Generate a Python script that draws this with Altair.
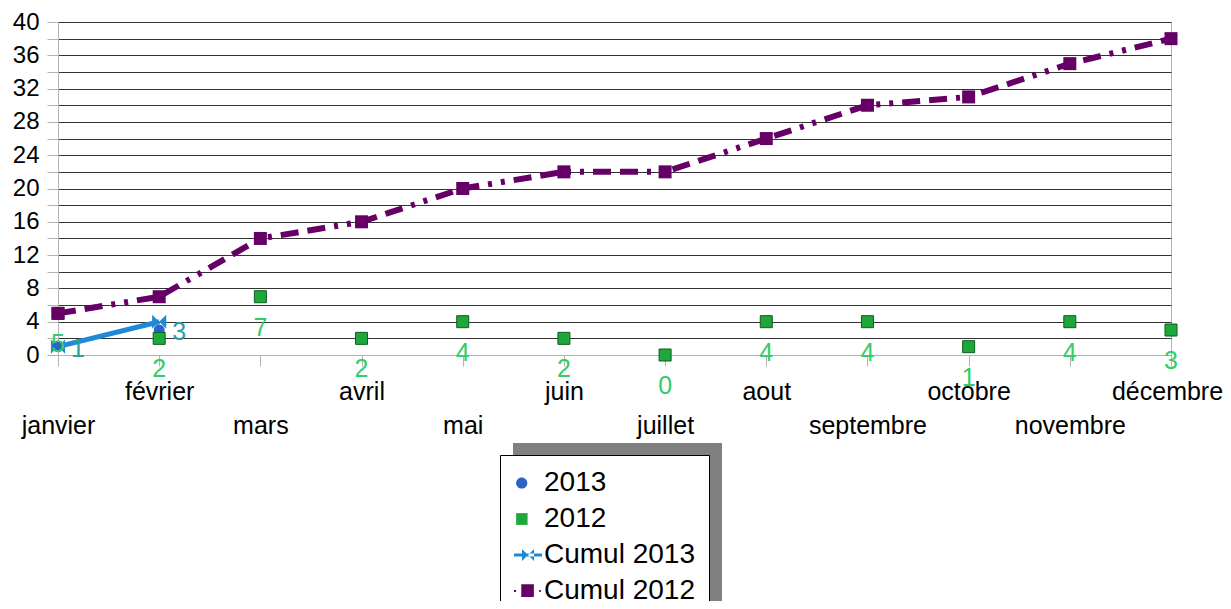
import altair as alt
import pandas as pd

months = ["janvier", "février", "mars", "avril", "mai", "juin", "juillet",
          "aout", "septembre", "octobre", "novembre", "décembre"]
vals_2013 = [1, 3]
vals_2012 = [5, 2, 7, 2, 4, 2, 0, 4, 4, 1, 4, 3]
cumul_2013 = [1, 4]
cumul_2012 = [5, 7, 14, 16, 20, 22, 22, 26, 30, 31, 35, 38]

series_names = ["2013", "2012", "Cumul 2013", "Cumul 2012"]
series_colors = ["#2d63c8", "#1ea83c", "#1e8ad6", "#660066"]

FONT = "Liberation Sans"

df13 = pd.DataFrame({"month": months[:len(vals_2013)], "value": vals_2013})
df12 = pd.DataFrame({"month": months, "value": vals_2012})
dfc13 = pd.DataFrame({"month": months[:len(cumul_2013)], "value": cumul_2013})
dfc12 = pd.DataFrame({"month": months, "value": cumul_2012})
dfleg = pd.DataFrame({"series": series_names})

lower_row = [m for i, m in enumerate(months) if i % 2 == 0]
lower_expr = "[" + ",".join("'" + m + "'" for m in lower_row) + "]"

x_enc = alt.X(
    "month:N", sort=months,
    scale=alt.Scale(type="point", domain=months, padding=0),
    axis=alt.Axis(
        title=None, labelAngle=0, labelFont=FONT, labelFontSize=25,
        labelColor="black", labelPadding=13, labelLineHeight=34,
        labelExpr="indexof(" + lower_expr + ", datum.value) >= 0 ? ['', datum.label] : datum.label",
        labelOffset={"condition": {"test": "datum.value == '" + months[-1] + "'", "value": -4}, "value": 0},
        labelOverlap=False, labelBound=False, labelFlush=False,
        tickSize=11, tickColor="#b3b3b3", domainColor="#b3b3b3", grid=False,
    ),
)
y_enc = alt.Y(
    "value:Q",
    scale=alt.Scale(domain=[0, 40], nice=False, zero=True),
    axis=alt.Axis(
        title=None, values=list(range(0, 41, 2)),
        labelExpr="datum.value % 4 == 0 ? datum.label : ''",
        labelFont=FONT, labelFontSize=24, labelColor="black", labelPadding=8,
        tickSize=11, tickColor="#b3b3b3", domainColor="#b3b3b3",
        grid=True, gridColor="#333333", gridWidth=1,
    ),
)

shadow = alt.Chart(alt.Data(values=[{"k": 0}])).mark_rect(color="#808080").encode(
    x=alt.value(455), x2=alt.value(664), y=alt.value(421), y2=alt.value(600)
)

line13 = alt.Chart(dfc13).mark_line(color="#1e8ad6", strokeWidth=5).encode(x=x_enc, y=y_enc)
mark13 = alt.Chart(dfc13).mark_point(
    shape="M-1,-1L1,1L1,-1L-1,1Z", filled=True, color="#1e8ad6", size=200, opacity=1
).encode(x=x_enc, y=y_enc)

pts13 = alt.Chart(df13).mark_point(
    shape="circle", filled=True, color="#2d63c8", size=121, opacity=1
).encode(x=x_enc, y=y_enc)
pts12 = alt.Chart(df12).mark_point(
    shape="square", filled=True, fill="#1ea83c", stroke="#0d5c1f", strokeWidth=1,
    size=144, opacity=1
).encode(x=x_enc, y=y_enc)

line12 = alt.Chart(dfc12).mark_line(
    color="#660066", strokeWidth=6, strokeDash=[18, 9, 18, 9, 4, 9, 4, 9]
).encode(x=x_enc, y=y_enc)
mark12 = alt.Chart(dfc12).mark_point(
    shape="square", filled=True, color="#660066", size=169, opacity=1
).encode(x=x_enc, y=y_enc)

lab12 = alt.Chart(df12).mark_text(
    font=FONT, fontSize=25, color="#33cc66", dy=31, baseline="middle", align="center"
).encode(x=x_enc, y=y_enc, text="value:Q")
lab13 = alt.Chart(df13).mark_text(
    font=FONT, fontSize=25, color="#2b9e9e", dx=13, dy=2, baseline="middle", align="left"
).encode(x=x_enc, y=y_enc, text="value:Q")

leg_shapes = [
    "M-0.05,0A0.4,0.4 0 1 1 -0.85,0A0.4,0.4 0 1 1 -0.05,0Z",
    "M-0.85,-0.42H-0.03V0.42H-0.85Z",
    "M-1,-0.1H1V0.1H-1Z M-0.43,-0.43L0.43,0.43L0.43,-0.43L-0.43,0.43Z",
    "M-1,-0.08H-0.85V0.08H-1Z M-0.48,-0.48H0.42V0.42H-0.48Z M0.8,-0.08H0.92V0.08H0.8Z",
]
legend = alt.Legend(
    orient="none", legendX=442, legendY=433, title=None,
    fillColor="white", strokeColor="black", padding=14,
    symbolSize=784, symbolStrokeWidth=0, symbolOpacity=1,
    labelFont=FONT, labelFontSize=28, labelColor="black", labelOffset=2,
    rowPadding=8, labelLimit=400,
)
leg = alt.Chart(dfleg).transform_filter("false").mark_point(filled=True, opacity=1).encode(
    color=alt.Color("series:N", scale=alt.Scale(domain=series_names, range=series_colors),
                    legend=legend),
    shape=alt.Shape("series:N", scale=alt.Scale(domain=series_names, range=leg_shapes),
                    legend=legend),
)

chart = alt.layer(
    shadow, line13, mark13, pts13, pts12, line12, mark12, lab12, lab13, leg
).properties(
    width=1113, height=333,
    padding={"left": 50, "top": 14, "right": 52, "bottom": 246},
    autosize="none",
).configure_view(stroke="#b3b3b3", strokeWidth=1)

chart.save("out.html", embed_options={"renderer": "svg", "actions": False})
